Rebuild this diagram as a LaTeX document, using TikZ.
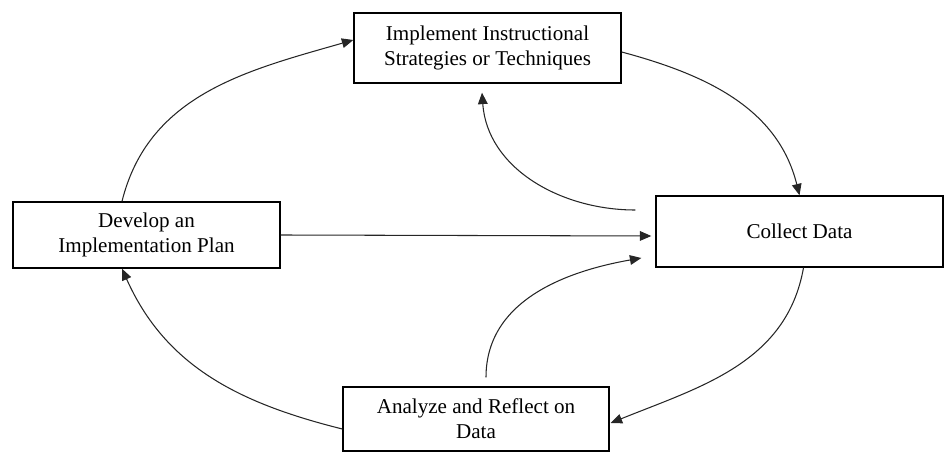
\documentclass[tikz,border=0pt]{standalone}
\usepackage{fontspec}
\setmainfont{Liberation Serif}
\usetikzlibrary{arrows.meta}
\tikzset{
  cybox/.style={draw=black, line width=0.8pt, align=center, inner sep=2pt,
    font=\fontsize{12}{14.2}\selectfont},
  cyarrow/.style={draw=black!85, line width=0.6pt, -{Triangle[length=6.5pt,width=5.5pt]}},
}
\begin{document}
\begin{tikzpicture}[x=0.02cm,y=-0.02cm]
\useasboundingbox (0,0) rectangle (946,455);
\node[cybox, minimum width=5.34cm, minimum height=1.4cm] (impl) at (487.5,48) {Implement Instructional\\Strategies or Techniques};
\node[cybox, minimum width=5.34cm, minimum height=1.32cm] (plan) at (146.5,235) {Develop an\\Implementation Plan};
\node[cybox, minimum width=5.74cm, minimum height=1.42cm] (collect) at (799.5,231.5) {Collect Data};
\node[cybox, minimum width=5.32cm, minimum height=1.28cm] (analyze) at (476,419) {Analyze and Reflect on\\Data};
\coordinate (back) at ([xshift=-0.4cm,yshift=0.43cm]collect.west);
\draw[cyarrow] ([xshift=-0.49cm]plan.north) to[out=76, in=196] ([yshift=0.16cm]impl.west);
\draw[cyarrow] ([yshift=-0.08cm]impl.east) to[out=-15, in=104] (collect.north);
\draw[cyarrow] (back) to[out=180, in=-86] ([xshift=-0.11cm,yshift=-0.18cm]impl.south);
\draw[cyarrow] (plan.east) -- ([xshift=-0.08cm,yshift=-0.09cm]collect.west);
\draw[cyarrow] ([xshift=0.2cm,yshift=0.18cm]analyze.north) to[out=90, in=190] ([xshift=-0.28cm,yshift=-0.53cm]collect.west);
\draw[cyarrow] ([xshift=0.08cm]collect.south) to[out=-100, in=22] ([xshift=0.02cm,yshift=-0.08cm]analyze.east);
\draw[cyarrow] ([yshift=-0.2cm]analyze.west) to[out=166, in=-66] ([xshift=-0.49cm]plan.south);
\end{tikzpicture}
\end{document}
